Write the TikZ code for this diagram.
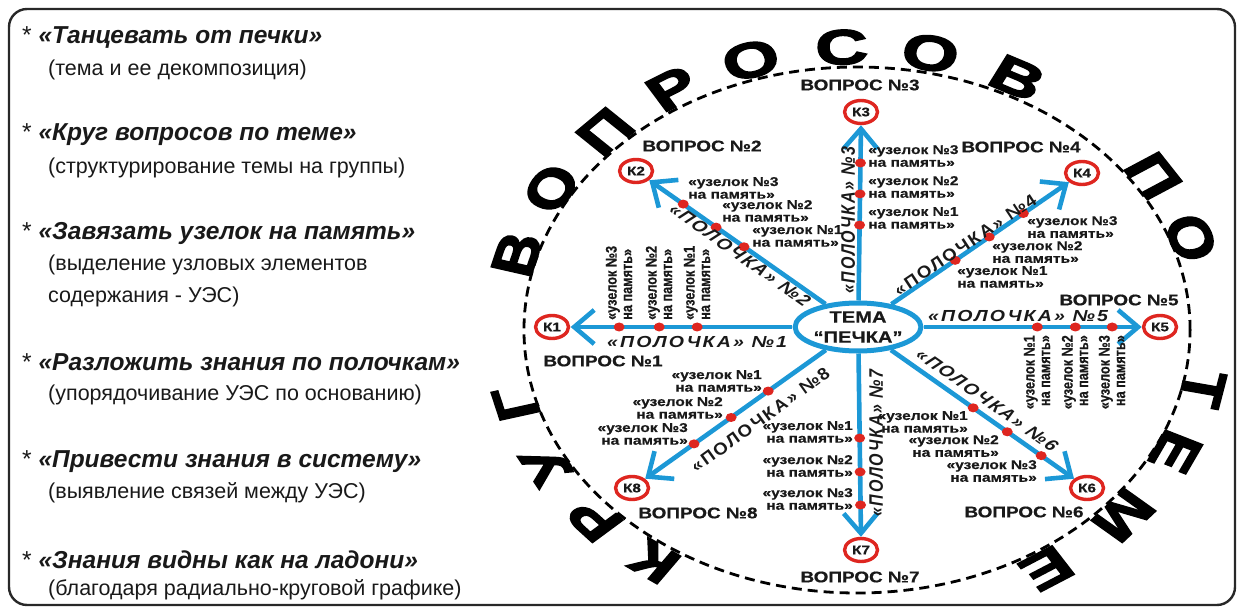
\documentclass[tikz,border=0pt]{standalone}
\usepackage{fontspec}
\setmainfont{Liberation Sans}
\setsansfont{Liberation Sans}
\newfontfamily\bigfont[FakeStretch=1.22,FakeBold=3]{Liberation Sans Bold}
\newfontfamily\polfont[LetterSpace=11]{Liberation Sans}
\newfontfamily\labfont[FakeBold=0.6]{Liberation Sans Bold}
\usetikzlibrary{arrows.meta,shapes.geometric,calc}
\definecolor{arblue}{RGB}{28,152,214}
\definecolor{kred}{RGB}{222,38,32}
\definecolor{ink}{RGB}{25,25,25}
\definecolor{framec}{RGB}{40,40,40}
\tikzset{
  frame/.style={draw=framec, line width=2.4pt, rounded corners=18pt},
  head/.style={anchor=west, inner sep=0pt, text=ink, font=\bfseries\itshape\fontsize{24.5}{26}\selectfont},
  sub/.style={anchor=west, inner sep=0pt, text=ink, font=\fontsize{21.5}{32}\selectfont, align=left},
  ring/.style={draw=black, line width=2.8pt, dash pattern=on 10pt off 6pt},
  big/.style={inner sep=0pt, text=black, font=\bigfont\fontsize{49}{49}\selectfont},
  knode/.style={ellipse, draw=kred, line width=3.4pt, fill=white, minimum width=27pt, minimum height=23pt, inner sep=0pt, text=ink, font=\labfont\fontsize{12.5}{13}\selectfont},
  temanode/.style={ellipse, draw=arblue, line width=5pt, fill=white, minimum width=86pt, minimum height=48pt, inner sep=0pt, align=center, text=ink, font=\labfont\fontsize{16.5}{20}\selectfont},
  dotnode/.style={circle, fill=kred, minimum size=9pt, inner sep=0pt},
  arr/.style={draw=arblue, line width=4.6pt, -{Straight Barb[length=20pt,width=34pt]}},
  lab/.style={inner sep=0pt, text=ink, font=\labfont\fontsize{12.7}{12.7}\selectfont},
  vop/.style={inner sep=0pt, text=ink, font=\labfont\fontsize{15.5}{16}\selectfont},
  pol/.style={inner sep=0pt, text=ink, font=\polfont\bfseries\itshape\fontsize{16}{16}\selectfont}
}
\begin{document}
\begin{tikzpicture}[x=1pt,y=-1pt]
\useasboundingbox (0,0) rectangle (1243,612);
\draw[frame] (9,9) rectangle (1235,605);
% left column
\node[head] (h1) at (22,38) {{\upshape\mdseries *} «Танцевать от печки»};
\node[sub] (s1) at (48,70) {(тема и ее декомпозиция)};
\node[head] (h2) at (22,135) {{\upshape\mdseries *} «Круг вопросов по теме»};
\node[sub] (s2) at (48,168) {(структурирование темы на группы)};
\node[head] (h3) at (22,233) {{\upshape\mdseries *} «Завязать узелок на память»};
\node[sub] (s3) at (48,281) {(выделение узловых элементов\\содержания - УЭС)};
\node[head] (h4) at (22,362) {{\upshape\mdseries *} «Разложить знания по полочкам»};
\node[sub] (s4) at (48,395) {(упорядочивание УЭС по основанию)};
\node[head] (h5) at (22,462) {{\upshape\mdseries *} «Привести знания в систему»};
\node[sub] (s5) at (48,493) {(выявление связей между УЭС)};
\node[head] (h6) at (22,560) {{\upshape\mdseries *} «Знания видны как на ладони»};
\node[sub] (s6) at (48,590) {(благодаря радиально-круговой графике)};
% diagram
\begin{scope}[x=0.8197pt, xscale=1.22, transform shape]
\draw[ring] (857,330) ellipse [x radius=273pt, y radius=263pt];
\foreach \ch/\t [count=\i] in {К/235, Р/222, У/208.5, Г/195, В/164.5, О/150, П/135.5, Р/121.5, О/107.5, С/92.5, О/78, В/63, П/33, О/19, Т/-12, Е/-25.5, М/-41, Е/-57.5}
  \node[big, rotate=\t-90] (L\i) at ({857+353*cos(\t)}, {330-283*sin(\t)}) {\ch};
\node[temanode] (tema) at (858,327) {ТЕМА\\“ПЕЧКА”};
\node[knode] (k1) at (552,327) {К1};
\node[knode] (k2) at (636,171) {К2};
\node[knode] (k3) at (861,112) {К3};
\node[knode] (k4) at (1082,173) {К4};
\node[knode] (k5) at (1160,327) {К5};
\node[knode] (k6) at (1087,488) {К6};
\node[knode] (k7) at (861,550) {К7};
\node[knode] (k8) at (632,488) {К8};
\foreach \k in {k1,k2,k3,k4,k5,k6,k7,k8}
  \draw[arr] (tema) -- (\k);
\foreach \k/\a/\b/\c in {k1/0.526/0.650/0.781, k5/0.593/0.719/0.841, k3/0.474/0.619/0.763, k7/0.498/0.650/0.798, k2/0.514/0.640/0.788, k4/0.433/0.585/0.737, k6/0.502/0.651/0.799, k8/0.398/0.562/0.726}{
  \node[dotnode] (\k-1) at ($(tema)!\a!(\k)$) {};
  \node[dotnode] (\k-2) at ($(tema)!\b!(\k)$) {};
  \node[dotnode] (\k-3) at ($(tema)!\c!(\k)$) {};
}
% knot labels
\node[lab, rotate=90, anchor=west, align=left] (t13) at (619,320) {«узелок №3\\на память»};
\node[lab, rotate=90, anchor=west, align=left] (t12) at (659,320) {«узелок №2\\на память»};
\node[lab, rotate=90, anchor=west, align=left] (t11) at (697,320) {«узелок №1\\на память»};
\node[lab, rotate=90, anchor=east, align=right] (t51) at (1037,335) {«узелок №1\\на память»};
\node[lab, rotate=90, anchor=east, align=right] (t52) at (1075,335) {«узелок №2\\на память»};
\node[lab, rotate=90, anchor=east, align=right] (t53) at (1112,335) {«узелок №3\\на память»};
\node[lab, anchor=west, align=left] (t33) at (868,156) {«узелок №3\\на память»};
\node[lab, anchor=west, align=left] (t32) at (868,187) {«узелок №2\\на память»};
\node[lab, anchor=west, align=left] (t31) at (868,218) {«узелок №1\\на память»};
\node[lab, anchor=east, align=right] (t71) at (853,432) {«узелок №1\\на память»};
\node[lab, anchor=east, align=right] (t72) at (853,466) {«узелок №2\\на память»};
\node[lab, anchor=east, align=right] (t73) at (853,499) {«узелок №3\\на память»};
\node[lab, anchor=south west, align=left] (t23) at (688,199) {«узелок №3\\на память»};
\node[lab, anchor=south west, align=left] (t22) at (722,222) {«узелок №2\\на память»};
\node[lab, anchor=south west, align=left] (t21) at (752,247) {«узелок №1\\на память»};
\node[lab, anchor=north west, align=left] (t41) at (957,266) {«узелок №1\\на память»};
\node[lab, anchor=north west, align=left] (t42) at (992,241) {«узелок №2\\на память»};
\node[lab, anchor=north west, align=left] (t43) at (1027,216) {«узелок №3\\на память»};
\node[lab, anchor=north east, align=right] (t61) at (968,411) {«узелок №1\\на память»};
\node[lab, anchor=north east, align=right] (t62) at (999,435) {«узелок №2\\на память»};
\node[lab, anchor=north east, align=right] (t63) at (1037,460) {«узелок №3\\на память»};
\node[lab, anchor=south east, align=right] (t81) at (762,392) {«узелок №1\\на память»};
\node[lab, anchor=south east, align=right] (t82) at (723,419) {«узелок №2\\на память»};
\node[lab, anchor=south east, align=right] (t83) at (688,445) {«узелок №3\\на память»};
% question labels
\node[vop] (v1) at (603,361) {ВОПРОС №1};
\node[vop] (v2) at (702,146) {ВОПРОС №2};
\node[vop] (v3) at (860,85) {ВОПРОС №3};
\node[vop] (v4) at (1021,147) {ВОПРОС №4};
\node[vop] (v5) at (1119,300) {ВОПРОС №5};
\node[vop] (v6) at (1024,512) {ВОПРОС №6};
\node[vop] (v7) at (860,577) {ВОПРОС №7};
\node[vop] (v8) at (698,513) {ВОПРОС №8};
% shelf labels
\node[pol] (p1) at (697,342) {«ПОЛОЧКА» №1};
\node[pol] (p5) at (1018,316) {«ПОЛОЧКА» №5};
\node[pol, rotate=90] (p3) at (848,220) {«ПОЛОЧКА» №3};
\node[pol, rotate=90] (p7) at (876,443) {«ПОЛОЧКА» №7};
\node[pol, rotate=-40.8] (p2) at (740,255) {«ПОЛОЧКА» №2};
\node[pol, rotate=39.4] (p4) at (965,245) {«ПОЛОЧКА» №4};
\node[pol, rotate=-40.5] (p6) at (987,400) {«ПОЛОЧКА» №6};
\node[pol, rotate=41.5] (p8) at (760,420) {«ПОЛОЧКА» №8};
\end{scope}
\end{tikzpicture}
\end{document}
